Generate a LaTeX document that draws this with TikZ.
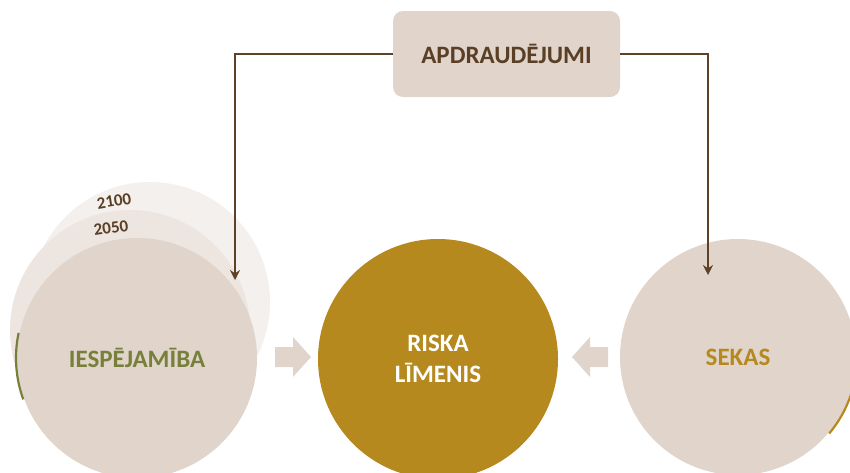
\documentclass[tikz,border=0pt]{standalone}
\usepackage{fontspec}
\setmainfont{Carlito}
\definecolor{pale}{HTML}{E0D4CB}
\definecolor{pale2}{HTML}{EDE5E0}
\definecolor{pale3}{HTML}{F4F0ED}
\definecolor{gold}{HTML}{B5891E}
\definecolor{brownline}{HTML}{5E4127}
\definecolor{browntext}{HTML}{5A3F26}
\definecolor{olive}{HTML}{76803A}
\tikzset{
  bigcircle/.style={circle, minimum size=240pt, inner sep=0pt, fill=#1},
  lbl/.style={font=\bfseries\fontsize{25}{30}\selectfont, align=center},
  yearlbl/.style={font=\bfseries\fontsize{17}{20}\selectfont, text=browntext},
  conn/.style={draw=brownline, line width=2.2pt, -{Stealth[length=10pt,width=10pt]}},
  blockarrow/.style={fill=pale},
}
\usetikzlibrary{arrows.meta}
\begin{document}
\begin{tikzpicture}[x=1pt,y=-1pt]
\useasboundingbox (0,0) rectangle (850,472);
\clip (0,0) rectangle (850,472);
% left stacked circles
\node[bigcircle=pale3] (c2100) at (150,302) {};
\node[bigcircle=pale2] (c2050) at (130,330) {};
\node[yearlbl, rotate=9] (t2100) at (114,201) {2100};
\node[yearlbl, rotate=8] (t2050) at (111,228) {2050};
\node[bigcircle=pale, text=olive, lbl] (iesp) at (137,358) {IESPĒJAMĪBA};
\draw[olive, line width=2.2pt] (iesp.center) ++(160:121) arc[start angle=160, end angle=192, radius=121];
% center circle
\node[bigcircle=gold, text=white, lbl, font=\bfseries\fontsize{25}{31}\selectfont] (risk) at (438,359) {RISKA\\LĪMENIS};
% right circle
\node[bigcircle=pale, minimum size=236pt, text=gold, lbl] (sekas) at (738,357) {SEKAS};
\draw[gold, line width=2.2pt] (sekas.center) ++(40:119) arc[start angle=40, end angle=5, radius=119];
% block arrows
\fill[blockarrow] (275,347) -- (293,347) -- (293,337) -- (311,357) -- (293,377) -- (293,367) -- (275,367) -- cycle;
\fill[blockarrow] (608,347) -- (590,347) -- (590,337) -- (572,357) -- (590,377) -- (590,367) -- (608,367) -- cycle;
% top box
\node[fill=pale, rounded corners=10pt, minimum width=227pt, minimum height=86pt, lbl, text=browntext] (apd) at (506.5,54) {APDRAUDĒJUMI};
\coordinate (tipL) at (235,280);
\coordinate (tipR) at (708,275);
\draw[conn] (apd.west) -| (tipL);
\draw[conn] (apd.east) -| (tipR);
\end{tikzpicture}
\end{document}
